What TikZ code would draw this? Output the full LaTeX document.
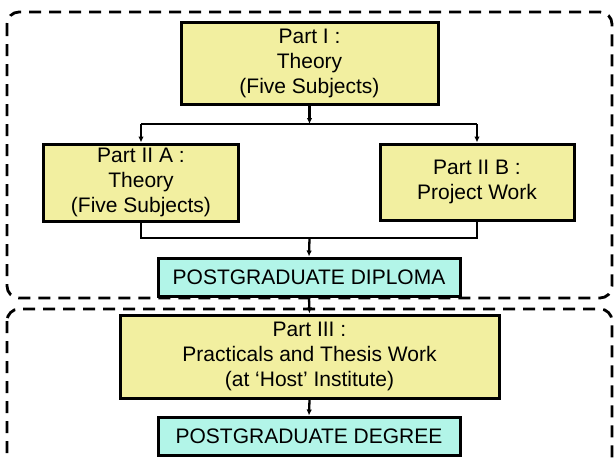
\documentclass[tikz,border=0pt]{standalone}
\usepackage{fontspec}
\setmainfont{Liberation Sans}
\usetikzlibrary{arrows.meta}
\definecolor{boxyellow}{RGB}{242,239,160}
\definecolor{boxcyan}{RGB}{178,245,232}
\tikzset{
  ybox/.style={draw=black, line width=3pt, fill=boxyellow, align=center, inner sep=0pt, font=\fontsize{21}{25}\selectfont},
  cbox/.style={draw=black, line width=3pt, fill=boxcyan, align=center, inner sep=0pt, font=\fontsize{21}{25}\selectfont},
  conn/.style={draw=black, line width=2.3pt},
  arr/.style={conn, -{Latex[length=6pt,width=5.5pt]}},
  group/.style={draw=black, line width=2.8pt, dash pattern=on 12pt off 8pt, rounded corners=12pt}
}
\begin{document}
\begin{tikzpicture}[x=1pt,y=1pt]
\useasboundingbox (0,0) rectangle (616,-459);
% groups
\draw[group] (7,-12) rectangle (612,-298);
\draw[group] (7,-309) rectangle (612,-472);
% nodes
\node[ybox, minimum width=257pt, minimum height=82pt] (p1) at (309.5,-63) {Part I :\\Theory\\(Five Subjects)};
\node[ybox, minimum width=194.5pt, minimum height=77pt] (p2a) at (141,-182.5) {Part II A :\\Theory\\(Five Subjects)};
\node[ybox, minimum width=194pt, minimum height=76pt] (p2b) at (477,-182) {Part II B :\\Project Work};
\node[cbox, minimum width=302pt, minimum height=38pt] (dip) at (309,-277) {POSTGRADUATE DIPLOMA};
\node[ybox, minimum width=379pt, minimum height=83pt] (p3) at (309.5,-356.5) {Part III :\\Practicals and Thesis Work\\(at `Host' Institute)};
\node[cbox, minimum width=302pt, minimum height=38pt] (deg) at (309,-436) {POSTGRADUATE DEGREE};
% junctions
\coordinate (j1) at (309.5,-124);
\coordinate (j2) at (309.5,-238);
% connectors
\draw[arr] (p1.south) -- (j1);
\draw[conn] (p2a.north |- j1) -- (p2b.north |- j1);
\draw[arr] (p2a.north |- j1) -- (p2a.north);
\draw[arr] (p2b.north |- j1) -- (p2b.north);
\draw[conn] (p2a.south) -- (p2a.south |- j2) -- (p2b.south |- j2) -- (p2b.south);
\draw[arr] (j2) -- (dip.north);
\draw[arr] (dip.south) -- (p3.north);
\draw[arr] (p3.south) -- (deg.north);
\end{tikzpicture}
\end{document}
